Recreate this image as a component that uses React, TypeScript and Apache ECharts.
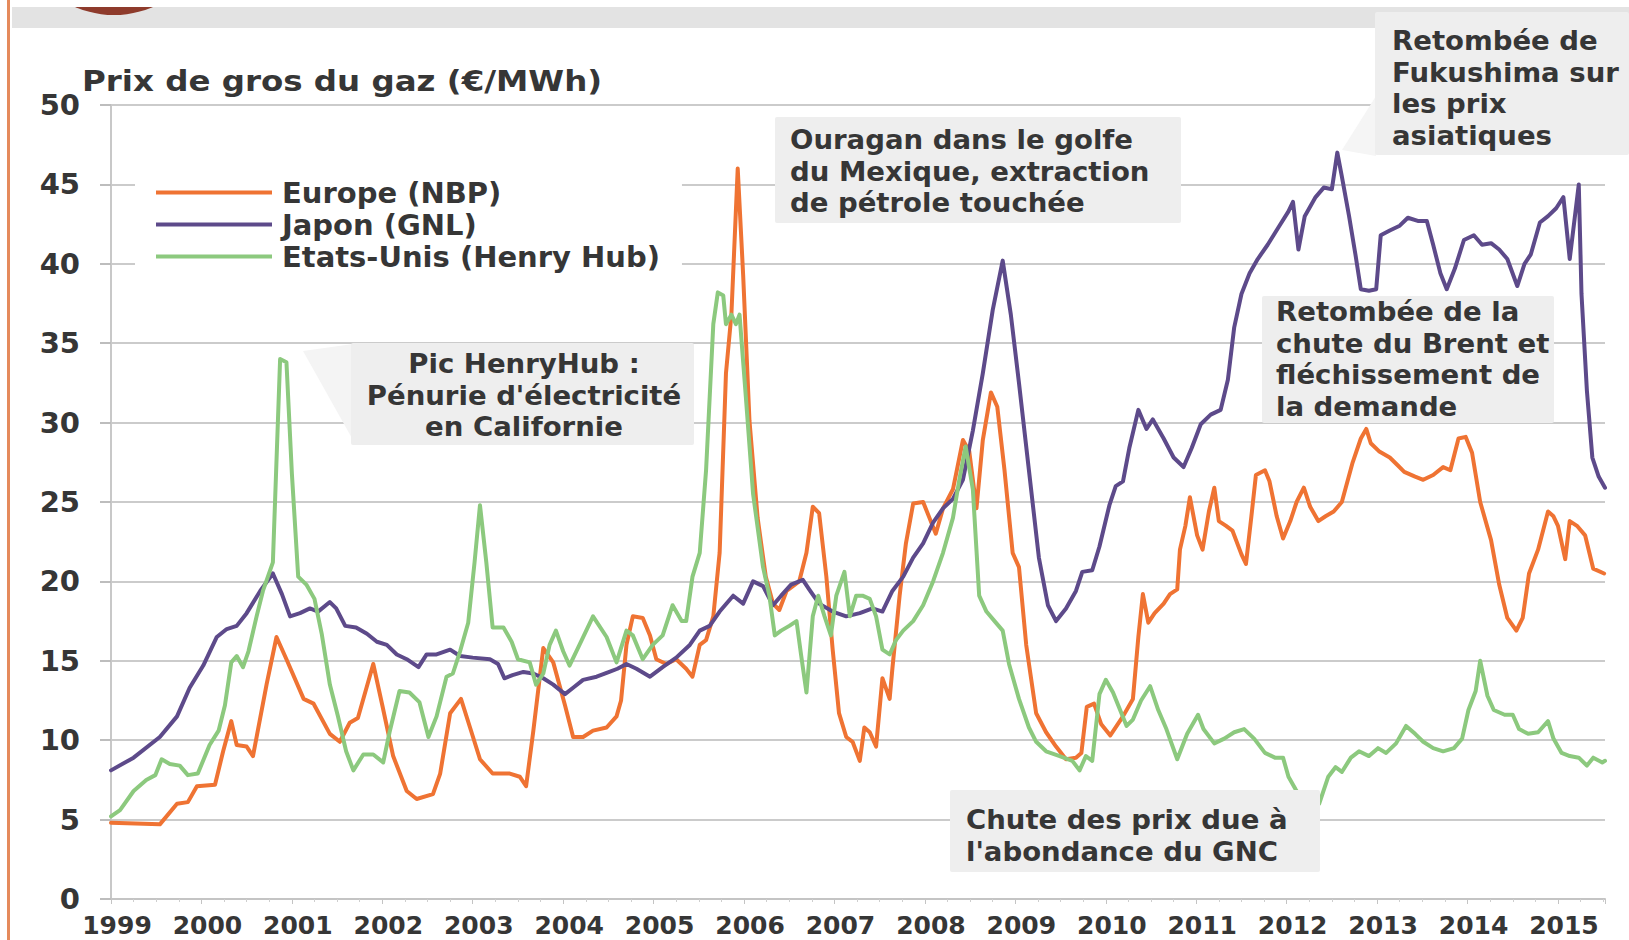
import React, { useEffect, useRef } from "react";
import * as echarts from "echarts";

const TITLE = "Prix de gros du gaz (€/MWh)";
const SERIES_NAMES = ["Europe (NBP)", "Japon (GNL)", "Etats-Unis (Henry Hub)"];
const YEAR_MIN = 1999;
const YEAR_MAX = 2015.52;

// [year (decimal), €/MWh]
const europe: [number, number][] = [
  [1999.0, 4.8], [1999.54, 4.7], [1999.73, 6.0], [1999.85, 6.1], [1999.95, 7.1], [2000.15, 7.2],
  [2000.24, 9.3], [2000.33, 11.2], [2000.39, 9.7], [2000.5, 9.6], [2000.57, 9.0], [2000.72, 13.5],
  [2000.83, 16.5], [2000.94, 15.1], [2001.13, 12.6], [2001.24, 12.3], [2001.42, 10.4], [2001.53, 9.9],
  [2001.64, 11.1], [2001.73, 11.4], [2001.9, 14.8], [2002.0, 12.2], [2002.12, 9.0], [2002.27, 6.8],
  [2002.38, 6.3], [2002.56, 6.6], [2002.64, 7.9], [2002.75, 11.7], [2002.87, 12.6], [2002.97, 10.8],
  [2003.08, 8.8], [2003.22, 7.9], [2003.41, 7.9], [2003.52, 7.7], [2003.59, 7.1], [2003.67, 10.6],
  [2003.78, 15.8], [2003.89, 14.9], [2004.02, 12.2], [2004.11, 10.2], [2004.22, 10.2], [2004.33, 10.6],
  [2004.48, 10.8], [2004.59, 11.5], [2004.64, 12.5], [2004.7, 16.0], [2004.77, 17.8], [2004.88, 17.7],
  [2004.96, 16.6], [2005.03, 15.1], [2005.14, 14.8], [2005.25, 15.1], [2005.36, 14.5], [2005.43, 14.0],
  [2005.51, 16.0], [2005.58, 16.3], [2005.66, 17.8], [2005.73, 21.8], [2005.8, 33.1], [2005.86, 36.8],
  [2005.93, 46.0], [2005.99, 39.3], [2006.06, 30.1], [2006.15, 24.0], [2006.24, 20.3], [2006.32, 18.6],
  [2006.39, 18.2], [2006.47, 19.4], [2006.54, 19.7], [2006.61, 20.0], [2006.69, 21.8], [2006.76, 24.7],
  [2006.83, 24.3], [2006.91, 20.3], [2006.98, 15.7], [2007.05, 11.7], [2007.13, 10.2], [2007.2, 9.9],
  [2007.28, 8.7], [2007.33, 10.8], [2007.39, 10.5], [2007.46, 9.6], [2007.53, 13.9], [2007.61, 12.6],
  [2007.64, 14.5], [2007.72, 19.1], [2007.79, 22.4], [2007.87, 24.9], [2007.98, 25.0], [2008.05, 24.0],
  [2008.12, 23.0], [2008.2, 24.6], [2008.31, 25.8], [2008.42, 28.9], [2008.49, 28.2], [2008.57, 24.6],
  [2008.64, 28.9], [2008.73, 31.9], [2008.8, 31.0], [2008.88, 27.0], [2008.97, 21.8], [2009.04, 20.9],
  [2009.12, 16.0], [2009.23, 11.7], [2009.34, 10.5], [2009.45, 9.6], [2009.56, 8.8], [2009.67, 8.9],
  [2009.73, 9.2], [2009.79, 12.1], [2009.87, 12.3], [2009.95, 11.0], [2010.05, 10.3], [2010.19, 11.5],
  [2010.3, 12.6], [2010.36, 16.5], [2010.41, 19.2], [2010.47, 17.4], [2010.54, 18.0], [2010.64, 18.6],
  [2010.71, 19.2], [2010.79, 19.5], [2010.82, 22.0], [2010.88, 23.5], [2010.93, 25.3], [2011.01, 22.9],
  [2011.07, 22.0], [2011.14, 24.4], [2011.2, 25.9], [2011.25, 23.8], [2011.33, 23.5], [2011.4, 23.2],
  [2011.5, 21.7], [2011.55, 21.1], [2011.61, 24.1], [2011.66, 26.7], [2011.76, 27.0], [2011.81, 26.3],
  [2011.89, 24.1], [2011.96, 22.7], [2012.04, 23.8], [2012.11, 25.0], [2012.19, 25.9], [2012.26, 24.7],
  [2012.35, 23.8], [2012.43, 24.1], [2012.52, 24.4], [2012.61, 25.0], [2012.73, 27.5], [2012.82, 29.0],
  [2012.88, 29.6], [2012.93, 28.7], [2013.02, 28.2], [2013.14, 27.8], [2013.23, 27.3], [2013.3, 26.9],
  [2013.42, 26.6], [2013.51, 26.4], [2013.62, 26.7], [2013.73, 27.2], [2013.81, 27.0], [2013.9, 29.0],
  [2013.98, 29.1], [2014.05, 28.1], [2014.14, 25.0], [2014.26, 22.6], [2014.35, 19.8], [2014.44, 17.7],
  [2014.54, 16.9], [2014.61, 17.7], [2014.68, 20.5], [2014.78, 22.0], [2014.89, 24.4], [2014.95, 24.1],
  [2015.0, 23.5], [2015.08, 21.4], [2015.13, 23.8], [2015.21, 23.5], [2015.3, 22.9], [2015.39, 20.8],
  [2015.51, 20.5],
];

const japon: [number, number][] = [
  [1999.0, 8.1], [1999.25, 8.9], [1999.54, 10.2], [1999.73, 11.5], [1999.87, 13.3], [2000.02, 14.7],
  [2000.17, 16.5], [2000.28, 17.0], [2000.39, 17.2], [2000.5, 18.0], [2000.65, 19.4], [2000.79, 20.5],
  [2000.89, 19.2], [2000.98, 17.8], [2001.09, 18.0], [2001.2, 18.3], [2001.29, 18.1], [2001.42, 18.7],
  [2001.49, 18.3], [2001.59, 17.2], [2001.71, 17.1], [2001.83, 16.7], [2001.94, 16.2], [2002.05, 16.0],
  [2002.16, 15.4], [2002.27, 15.1], [2002.4, 14.6], [2002.49, 15.4], [2002.6, 15.4], [2002.75, 15.7],
  [2002.86, 15.3], [2003.0, 15.2], [2003.19, 15.1], [2003.28, 14.8], [2003.35, 13.9], [2003.44, 14.1],
  [2003.56, 14.3], [2003.67, 14.2], [2003.78, 13.9], [2003.89, 13.5], [2004.02, 12.9], [2004.11, 13.3],
  [2004.22, 13.8], [2004.37, 14.0], [2004.51, 14.3], [2004.6, 14.5], [2004.7, 14.8], [2004.81, 14.5],
  [2004.96, 14.0], [2005.1, 14.6], [2005.25, 15.2], [2005.4, 16.0], [2005.51, 16.9], [2005.62, 17.2],
  [2005.73, 18.1], [2005.88, 19.1], [2005.99, 18.6], [2006.1, 20.0], [2006.21, 19.7], [2006.32, 18.5],
  [2006.41, 19.1], [2006.52, 19.8], [2006.65, 20.1], [2006.72, 19.5], [2006.83, 18.6], [2006.98, 18.1],
  [2007.13, 17.8], [2007.28, 18.0], [2007.42, 18.3], [2007.53, 18.1], [2007.64, 19.4], [2007.76, 20.3],
  [2007.87, 21.5], [2007.98, 22.4], [2008.09, 23.7], [2008.2, 24.6], [2008.31, 25.2], [2008.42, 26.4],
  [2008.53, 29.5], [2008.64, 33.1], [2008.75, 37.1], [2008.86, 40.2], [2008.95, 36.8], [2009.04, 32.5],
  [2009.15, 27.0], [2009.26, 21.5], [2009.36, 18.5], [2009.45, 17.5], [2009.56, 18.3], [2009.67, 19.4],
  [2009.74, 20.6], [2009.85, 20.7], [2009.93, 22.2], [2010.04, 24.8], [2010.11, 26.0], [2010.19, 26.3],
  [2010.26, 28.4], [2010.36, 30.8], [2010.45, 29.6], [2010.52, 30.2], [2010.64, 29.0], [2010.75, 27.8],
  [2010.86, 27.2], [2010.95, 28.4], [2011.05, 29.9], [2011.16, 30.5], [2011.27, 30.8], [2011.35, 32.7],
  [2011.42, 36.0], [2011.5, 38.1], [2011.59, 39.4], [2011.68, 40.3], [2011.79, 41.2], [2011.91, 42.3],
  [2012.02, 43.3], [2012.07, 43.9], [2012.13, 40.9], [2012.2, 43.0], [2012.32, 44.2], [2012.41, 44.8],
  [2012.5, 44.7], [2012.56, 47.0], [2012.61, 45.5], [2012.69, 43.0], [2012.76, 40.6], [2012.82, 38.4],
  [2012.91, 38.3], [2012.99, 38.4], [2013.04, 41.8], [2013.14, 42.1], [2013.25, 42.4], [2013.34, 42.9],
  [2013.45, 42.7], [2013.55, 42.7], [2013.62, 41.2], [2013.7, 39.4], [2013.77, 38.4], [2013.86, 39.7],
  [2013.96, 41.5], [2014.07, 41.8], [2014.16, 41.2], [2014.26, 41.3], [2014.35, 40.9], [2014.44, 40.3],
  [2014.55, 38.6], [2014.63, 40.0], [2014.7, 40.6], [2014.8, 42.6], [2014.89, 43.0], [2014.98, 43.5],
  [2015.06, 44.2], [2015.13, 40.3], [2015.23, 45.0], [2015.26, 38.1], [2015.32, 32.0], [2015.38, 27.8],
  [2015.45, 26.6], [2015.52, 25.9],
];

const etatsUnis: [number, number][] = [
  [1999.0, 5.2], [1999.1, 5.6], [1999.25, 6.8], [1999.39, 7.5], [1999.49, 7.8], [1999.56, 8.8],
  [1999.65, 8.5], [1999.76, 8.4], [1999.85, 7.8], [1999.96, 7.9], [2000.09, 9.7], [2000.19, 10.6],
  [2000.26, 12.2], [2000.33, 14.9], [2000.39, 15.3], [2000.46, 14.6], [2000.52, 15.6], [2000.61, 17.8],
  [2000.68, 19.4], [2000.79, 21.2], [2000.87, 34.0], [2000.94, 33.8], [2001.0, 26.8], [2001.07, 20.3],
  [2001.16, 19.8], [2001.25, 18.9], [2001.33, 16.7], [2001.42, 13.5], [2001.51, 11.5], [2001.6, 9.3],
  [2001.68, 8.1], [2001.79, 9.1], [2001.9, 9.1], [2002.01, 8.6], [2002.08, 10.5], [2002.19, 13.1],
  [2002.3, 13.0], [2002.41, 12.4], [2002.51, 10.2], [2002.6, 11.5], [2002.71, 14.0], [2002.78, 14.2],
  [2002.86, 15.6], [2002.95, 17.4], [2003.02, 21.2], [2003.08, 24.8], [2003.15, 21.2], [2003.22, 17.1],
  [2003.34, 17.1], [2003.43, 16.2], [2003.5, 15.1], [2003.63, 14.9], [2003.7, 13.5], [2003.78, 14.2],
  [2003.85, 16.0], [2003.92, 16.9], [2004.0, 15.6], [2004.07, 14.7], [2004.18, 16.0], [2004.33, 17.8],
  [2004.48, 16.5], [2004.59, 14.9], [2004.7, 16.9], [2004.77, 16.6], [2004.88, 15.1], [2004.99, 16.0],
  [2005.1, 16.6], [2005.21, 18.5], [2005.31, 17.5], [2005.36, 17.5], [2005.43, 20.3], [2005.51, 21.8],
  [2005.58, 27.0], [2005.66, 36.2], [2005.71, 38.2], [2005.77, 38.0], [2005.8, 36.2], [2005.86, 36.8],
  [2005.91, 36.2], [2005.95, 36.8], [2006.02, 31.6], [2006.1, 25.5], [2006.21, 20.9], [2006.28, 19.1],
  [2006.34, 16.6], [2006.41, 16.9], [2006.5, 17.2], [2006.58, 17.5], [2006.63, 15.4], [2006.69, 13.0],
  [2006.76, 17.8], [2006.82, 19.1], [2006.89, 17.8], [2006.96, 16.6], [2007.02, 19.1], [2007.11, 20.6],
  [2007.17, 17.8], [2007.24, 19.1], [2007.31, 19.1], [2007.39, 18.9], [2007.46, 17.8], [2007.53, 15.7],
  [2007.61, 15.4], [2007.68, 16.3], [2007.76, 16.9], [2007.87, 17.5], [2007.98, 18.5], [2008.09, 20.0],
  [2008.2, 21.8], [2008.31, 24.0], [2008.38, 26.4], [2008.45, 28.5], [2008.53, 25.8], [2008.6, 19.1],
  [2008.68, 18.1], [2008.77, 17.5], [2008.86, 16.9], [2008.93, 14.8], [2009.04, 12.6], [2009.15, 10.8],
  [2009.23, 9.9], [2009.34, 9.3], [2009.49, 9.0], [2009.63, 8.7], [2009.71, 8.1], [2009.78, 9.0],
  [2009.85, 8.7], [2009.93, 12.9], [2010.0, 13.8], [2010.08, 13.0], [2010.23, 10.9], [2010.3, 11.3],
  [2010.39, 12.5], [2010.49, 13.4], [2010.58, 11.9], [2010.67, 10.7], [2010.79, 8.8], [2010.9, 10.4],
  [2011.02, 11.6], [2011.08, 10.7], [2011.2, 9.8], [2011.31, 10.1], [2011.42, 10.5], [2011.53, 10.7],
  [2011.64, 10.1], [2011.76, 9.2], [2011.87, 8.9], [2011.96, 8.9], [2012.02, 7.7], [2012.1, 6.9],
  [2012.25, 5.5], [2012.36, 6.0], [2012.46, 7.7], [2012.54, 8.3], [2012.61, 8.0], [2012.71, 8.9],
  [2012.8, 9.3], [2012.91, 9.0], [2013.01, 9.5], [2013.1, 9.2], [2013.21, 9.8], [2013.32, 10.9],
  [2013.42, 10.4], [2013.51, 9.9], [2013.62, 9.5], [2013.73, 9.3], [2013.85, 9.5], [2013.94, 10.1],
  [2014.01, 11.9], [2014.09, 13.1], [2014.14, 15.0], [2014.22, 12.8], [2014.29, 11.9], [2014.41, 11.6],
  [2014.5, 11.6], [2014.57, 10.7], [2014.67, 10.4], [2014.78, 10.5], [2014.89, 11.2], [2014.95, 10.1],
  [2015.04, 9.2], [2015.13, 9.0], [2015.23, 8.9], [2015.32, 8.4], [2015.39, 8.9], [2015.49, 8.6],
  [2015.52, 8.7],
];

const ANNOTATIONS = {
  pic: ["Pic HenryHub :", "Pénurie d'électricité", "en Californie"],
  ouragan: ["Ouragan dans le golfe", "du Mexique, extraction", "de pétrole touchée"],
  fukushima: ["Retombée de", "Fukushima sur", "les prix", "asiatiques"],
  brent: ["Retombée de la", "chute du Brent et", "fléchissement de", "la demande"],
  chute: ["Chute des prix due à", "l'abondance du GNC"],
};

const COLORS = { europe: "#ef7333", japon: "#5d4a8a", us: "#8cc97e" };
const FONT = "DejaVu Sans";
const TEXT = "#363636";
const BOX = "#eeeeee";

function box(x: number, y: number, w: number, h: number) {
  return { type: "rect", z: 100, shape: { x, y, width: w, height: h, r: 2 }, style: { fill: BOX } };
}
function label(lines: string[], x: number, y: number, align: "left" | "center" = "left") {
  return {
    type: "text",
    z: 101,
    x,
    y,
    scaleX: 1.04,
    style: {
      text: lines.join("\n"),
      font: `bold 26.5px "${FONT}"`,
      fill: TEXT,
      lineHeight: 31.5,
      align,
      verticalAlign: "top",
    },
  };
}

export default function App() {
  const ref = useRef<HTMLDivElement>(null);
  useEffect(() => {
    if (!ref.current) return;
    const chart = echarts.init(ref.current, undefined, { renderer: "svg" });
    const option: any = {
      animation: false,
      backgroundColor: "#ffffff",
      textStyle: { fontFamily: FONT },
      legend: {
        orient: "vertical",
        left: 135,
        top: 164,
        padding: [14, 22, 14, 21],
        backgroundColor: "#ffffff",
        icon: "rect",
        itemWidth: 116,
        itemHeight: 4,
        itemGap: 3,
        textStyle: {
          fontFamily: FONT,
          fontSize: 29,
          fontWeight: "bold",
          color: TEXT,
          lineHeight: 26,
          padding: [0, 0, 0, 5],
        },
        data: SERIES_NAMES,
      },
      grid: { left: 111, right: 24, top: 105, bottom: 41 },
      xAxis: {
        type: "value",
        min: YEAR_MIN,
        max: YEAR_MAX,
        interval: 1,
        axisLine: { lineStyle: { color: "#c4c4c4", width: 2 } },
        axisTick: { show: true, length: 5, lineStyle: { color: "#c4c4c4", width: 1 } },
        minorTick: { show: true, splitNumber: 4, length: 3, lineStyle: { color: "#cfcfcf" } },
        axisLabel: {
          formatter: (v: number) => (Number.isInteger(v) ? String(v) : ""),
          margin: 14,
          fontFamily: FONT,
          fontSize: 25,
          fontWeight: "bold",
          color: TEXT,
          padding: [0, 0, 0, 12],
        },
        splitLine: { show: false },
      },
      yAxis: {
        type: "value",
        min: 0,
        max: 50,
        interval: 5,
        axisLine: { show: true, lineStyle: { color: "#c8c8c8", width: 2 } },
        axisTick: { show: true, length: 11, lineStyle: { color: "#bdbdbd", width: 2 } },
        axisLabel: { margin: 31, fontFamily: FONT, fontSize: 29, fontWeight: "bold", color: TEXT },
        splitLine: { lineStyle: { color: "#cbcbcb", width: 2 } },
      },
      series: [
        { name: SERIES_NAMES[0], data: europe, color: COLORS.europe },
        { name: SERIES_NAMES[1], data: japon, color: COLORS.japon },
        { name: SERIES_NAMES[2], data: etatsUnis, color: COLORS.us },
      ].map((s) => ({
        name: s.name,
        type: "line",
        data: s.data,
        showSymbol: false,
        symbol: "none",
        itemStyle: { color: s.color },
        lineStyle: { color: s.color, width: 4, join: "round", cap: "round" },
      })),
      graphic: [
        { type: "rect", z: 90, shape: { x: 12, y: 7, width: 1617, height: 21 }, style: { fill: "#e3e3e3" } },
        { type: "circle", z: 91, shape: { cx: 114, cy: -84, r: 99 }, style: { fill: "#8e3b2c" } },
        { type: "rect", z: 92, shape: { x: 0, y: 0, width: 1629, height: 7 }, style: { fill: "#ffffff" } },
        { type: "rect", z: 93, shape: { x: 7, y: 0, width: 3, height: 940 }, style: { fill: "#e58a5c" } },
        {
          type: "text",
          z: 95,
          x: 82,
          y: 66,
          scaleX: 1.12,
          style: {
            text: TITLE,
            font: `bold 29px "${FONT}"`,
            fill: TEXT,
            align: "left",
            verticalAlign: "top",
          },
        },
        { type: "polygon", z: 99, shape: { points: [[303, 351], [353, 344], [353, 440]] }, style: { fill: "#f4f4f4" } },
        { type: "polygon", z: 99, shape: { points: [[1342, 150], [1376, 96], [1376, 156]] }, style: { fill: "#f5f5f5" } },
        box(351, 343, 343, 102),
        box(775, 117, 406, 106),
        box(1375, 12, 254, 143),
        box(1262, 296, 292, 127),
        box(950, 790, 370, 82),
        label(ANNOTATIONS.pic, 524, 348, "center"),
        label(ANNOTATIONS.ouragan, 790, 124),
        label(ANNOTATIONS.fukushima, 1392, 25),
        label(ANNOTATIONS.brent, 1276, 296),
        label(ANNOTATIONS.chute, 966, 804),
      ],
    };
    chart.setOption(option);
    return () => chart.dispose();
  }, []);
  return (
    <div
      ref={ref}
      style={{ position: "absolute", left: 0, top: 0, width: 1629, height: 940 }}
    />
  );
}
